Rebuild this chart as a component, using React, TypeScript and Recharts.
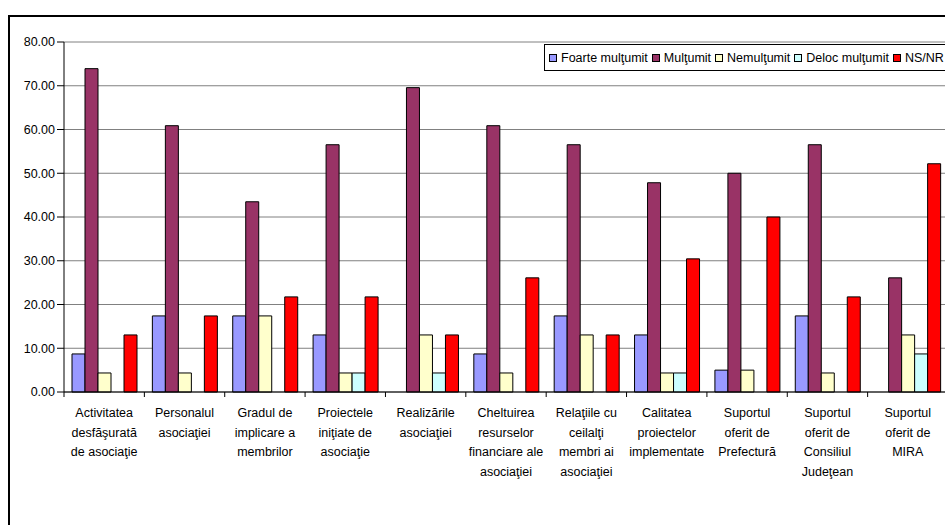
import { Bar, BarChart, CartesianGrid, XAxis, YAxis } from "recharts";

const FONT = '"Liberation Sans", Arial, sans-serif';

// category labels, already broken into lines as in the original
const CATEGORY_LINES = [
  ["Activitatea", "desfăşurată", "de asociaţie"],
  ["Personalul", "asociaţiei"],
  ["Gradul de", "implicare a", "membrilor"],
  ["Proiectele", "iniţiate de", "asociaţie"],
  ["Realizările", "asociaţiei"],
  ["Cheltuirea", "resurselor", "financiare ale", "asociaţiei"],
  ["Relaţiile cu", "ceilalţi", "membri ai", "asociaţiei"],
  ["Calitatea", "proiectelor", "implementate"],
  ["Suportul", "oferit de", "Prefectură"],
  ["Suportul", "oferit de", "Consiliul", "Judeţean"],
  ["Suportul", "oferit de", "MIRA"],
];
const CATEGORIES = CATEGORY_LINES.map((l) => l.join(" "));

const FOARTE = [8.7, 17.39, 17.39, 13.04, 0, 8.7, 17.39, 13.04, 5.0, 17.39, 0];
const MULTUMIT = [73.91, 60.87, 43.48, 56.52, 69.57, 60.87, 56.52, 47.83, 50.0, 56.52, 26.09];
const NEMULTUMIT = [4.35, 4.35, 17.39, 4.35, 13.04, 4.35, 13.04, 4.35, 5.0, 4.35, 13.04];
const DELOC = [0, 0, 0, 4.35, 4.35, 0, 0, 4.35, 0, 0, 8.7];
const NSNR = [13.04, 17.39, 21.74, 21.74, 13.04, 26.09, 13.04, 30.43, 40.0, 21.74, 52.17];

const Y_TICKS = [0, 10, 20, 30, 40, 50, 60, 70, 80];

const SERIES = [
  { key: "foarte", name: "Foarte mulţumit", color: "#9999FF" },
  { key: "multumit", name: "Mulţumit", color: "#993366" },
  { key: "nemultumit", name: "Nemulţumit", color: "#FFFFCC" },
  { key: "deloc", name: "Deloc mulţumit", color: "#CCFFFF" },
  { key: "nsnr", name: "NS/NR", color: "#FF0000" },
];

const rows = CATEGORIES.map((name, i) => ({
  name,
  foarte: FOARTE[i],
  multumit: MULTUMIT[i],
  nemultumit: NEMULTUMIT[i],
  deloc: DELOC[i],
  nsnr: NSNR[i],
}));

const CHART_W = 960;
const CHART_H = 525;
const PLOT_LEFT = 64;
const PLOT_RIGHT = 948;
const CAT_W = (PLOT_RIGHT - PLOT_LEFT) / CATEGORIES.length;

function CategoryTick(props: any) {
  const { x, y, payload } = props;
  const i = CATEGORIES.indexOf(payload.value);
  const lines = CATEGORY_LINES[i] || [];
  const left = x - CAT_W / 2;
  return (
    <g>
      <line x1={left} y1={y} x2={left} y2={y + 5} stroke="#000" />
      {i === CATEGORIES.length - 1 && (
        <line x1={x + CAT_W / 2} y1={y} x2={x + CAT_W / 2} y2={y + 5} stroke="#000" />
      )}
      <text x={x} y={y + 25} textAnchor="middle" fontSize={12.5} fontFamily={FONT} fill="#000">
        {lines.map((l, k) => (
          <tspan key={k} x={x} dy={k === 0 ? 0 : 19.6}>
            {l}
          </tspan>
        ))}
      </text>
    </g>
  );
}

function LegendBox() {
  return (
    <div
      style={{
        position: "absolute",
        left: 544,
        top: 44,
        width: 420,
        height: 27,
        border: "1px solid #000",
        boxSizing: "border-box",
        background: "#fff",
        display: "flex",
        alignItems: "center",
        paddingLeft: 4,
        fontFamily: FONT,
        fontSize: 12.5,
        color: "#000",
        whiteSpace: "nowrap",
      }}
    >
      {SERIES.map((s) => (
        <span key={s.key} style={{ display: "flex", alignItems: "center", marginRight: 4 }}>
          <span
            style={{
              display: "inline-block",
              width: 6,
              height: 6,
              border: "1px solid #000",
              background: s.color,
              marginRight: 4,
            }}
          />
          {s.name}
        </span>
      ))}
    </div>
  );
}

export default function App() {
  return (
    <div
      style={{
        position: "fixed",
        left: 0,
        top: 0,
        width: 945,
        height: 525,
        overflow: "hidden",
        background: "#fff",
      }}
    >
      <div
        style={{
          position: "absolute",
          left: 8,
          top: 15,
          width: 980,
          height: 560,
          border: "2px solid #000",
          boxSizing: "border-box",
        }}
      />
      <div style={{ position: "absolute", left: 0, top: 0 }}>
        <BarChart
          width={CHART_W}
          height={CHART_H}
          data={rows}
          margin={{ top: 42, right: CHART_W - PLOT_RIGHT, bottom: 0, left: 0 }}
          barCategoryGap={8}
          barGap={0}
        >
          <CartesianGrid vertical={false} stroke="#808080" strokeWidth={1} />
          <XAxis
            dataKey="name"
            interval={0}
            height={CHART_H - 392}
            tickSize={0}
            tickMargin={0}
            tickLine={false}
            axisLine={{ stroke: "#000" }}
            tick={<CategoryTick />}
          />
          <YAxis
            width={PLOT_LEFT}
            domain={[0, 80]}
            ticks={Y_TICKS}
            interval={0}
            tickFormatter={(v: number) => v.toFixed(2)}
            tick={{ fontSize: 12.5, fontFamily: FONT, fill: "#000" }}
            axisLine={{ stroke: "#000" }}
            tickLine={{ stroke: "#000" }}
            tickSize={7}
            tickMargin={2}
          />
          {SERIES.map((s) => (
            <Bar
              key={s.key}
              dataKey={s.key}
              name={s.name}
              fill={s.color}
              stroke="#000"
              strokeWidth={1}
              isAnimationActive={false}
            />
          ))}
        </BarChart>
      </div>
      <LegendBox />
    </div>
  );
}
